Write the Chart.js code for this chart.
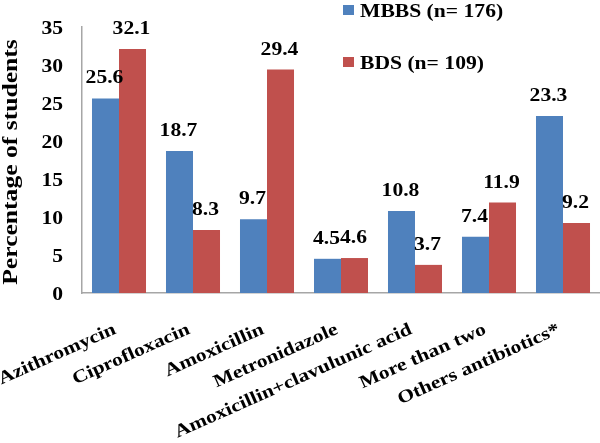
<!DOCTYPE html>
<html>
<head>
<meta charset="utf-8">
<script src="https://cdn.jsdelivr.net/npm/chart.js@4/dist/chart.umd.min.js"></script>
<style>
  html, body { margin: 0; padding: 0; background: #fff; }
  #wrap { width: 600px; height: 443px; position: relative; }
</style>
</head>
<body>
<div id="wrap"><canvas id="chart"></canvas></div>
<script>
  "use strict";

  const categories = ["Azithromycin", "Ciprofloxacin", "Amoxicillin", "Metronidazole",
    "Amoxicillin+clavulunic acid", "More than two", "Others antibiotics*"];
  const mbbsValues = [25.6, 18.7, 9.7, 4.5, 10.8, 7.4, 23.3];
  const bdsValues = [32.1, 8.3, 29.4, 4.6, 3.7, 11.9, 9.2];
  const seriesLabels = ["MBBS (n= 176)", "BDS (n= 109)"];
  const yTitle = "Percentage of students";

  const FONT = "'Liberation Serif', 'Times New Roman', serif";
  const STRETCH = 1.2; // le texte de l'original est plus large que Times

  // texte étiré dans le sens de lecture
  function drawText(ctx, text, x, y, opts) {
    const o = Object.assign({ size: 18, angle: 0, sx: STRETCH, align: "left", baseline: "alphabetic" }, opts);
    ctx.save();
    ctx.translate(x, y);
    ctx.rotate(o.angle);
    ctx.scale(o.sx, 1);
    ctx.font = "bold " + o.size + "px " + FONT;
    ctx.fillStyle = "#000";
    ctx.textAlign = o.align;
    ctx.textBaseline = o.baseline;
    ctx.fillText(text, 0, 0);
    ctx.restore();
  }

  const textLayer = {
    id: "textLayer",
    afterDraw(chart) {
      const ctx = chart.ctx;
      const xs = chart.scales.x;
      const ys = chart.scales.y;

      // graduations Y
      ys.ticks.forEach((t) => {
        drawText(ctx, String(t.value), 63, ys.getPixelForValue(t.value) + 2, { align: "right", baseline: "middle" });
      });

      // titre Y
      drawText(ctx, yTitle, 17, (ys.top + ys.bottom) / 2 + 2, { angle: -Math.PI / 2, align: "center", sx: 1.28, size: 20 });

      // catégories inclinées
      const ang = -24 * Math.PI / 180;
      chart.data.labels.forEach((lab, i) => {
        drawText(ctx, lab, xs.getPixelForValue(i) - 2, xs.top + 40, { angle: ang, align: "right" });
      });

      // valeurs au-dessus des barres
      chart.data.datasets.forEach((ds, i) => {
        chart.getDatasetMeta(i).data.forEach((bar, j) => {
          drawText(ctx, ds.data[j].toFixed(1), bar.x - 1, bar.y - 15, { align: "center" });
        });
      });

      // légende
      chart.data.datasets.forEach((ds, i) => {
        const base = 17 + i * 52;
        ctx.fillStyle = ds.backgroundColor;
        ctx.fillRect(343, base - 12, 11, 10);
        drawText(ctx, ds.label, 360, base);
      });
    }
  };

  new Chart(document.getElementById("chart"), {
    type: "bar",
    data: {
      labels: categories,
      datasets: [
        { label: seriesLabels[0], data: mbbsValues, backgroundColor: "#4F81BD" },
        { label: seriesLabels[1], data: bdsValues, backgroundColor: "#C0504D" }
      ]
    },
    options: {
      responsive: true,
      maintainAspectRatio: false,
      animation: false,
      layout: { padding: { top: 27, right: 0, left: 0, bottom: 0 } },
      datasets: { bar: { categoryPercentage: 0.73, barPercentage: 1 } },
      plugins: {
        legend: { display: false },
        tooltip: { enabled: false }
      },
      scales: {
        x: {
          grid: { display: false, drawTicks: false },
          border: { display: true, color: "#A6A6A6", width: 1.5 },
          ticks: { display: false },
          afterFit(scale) { scale.height = 150; }
        },
        y: {
          min: 0,
          max: 35,
          grid: { display: false, drawTicks: false },
          border: { display: true, color: "#A6A6A6", width: 1.5 },
          ticks: { display: false, stepSize: 5 },
          afterFit(scale) { scale.width = 82; }
        }
      }
    },
    plugins: [textLayer]
  });
</script>
</body>
</html>
